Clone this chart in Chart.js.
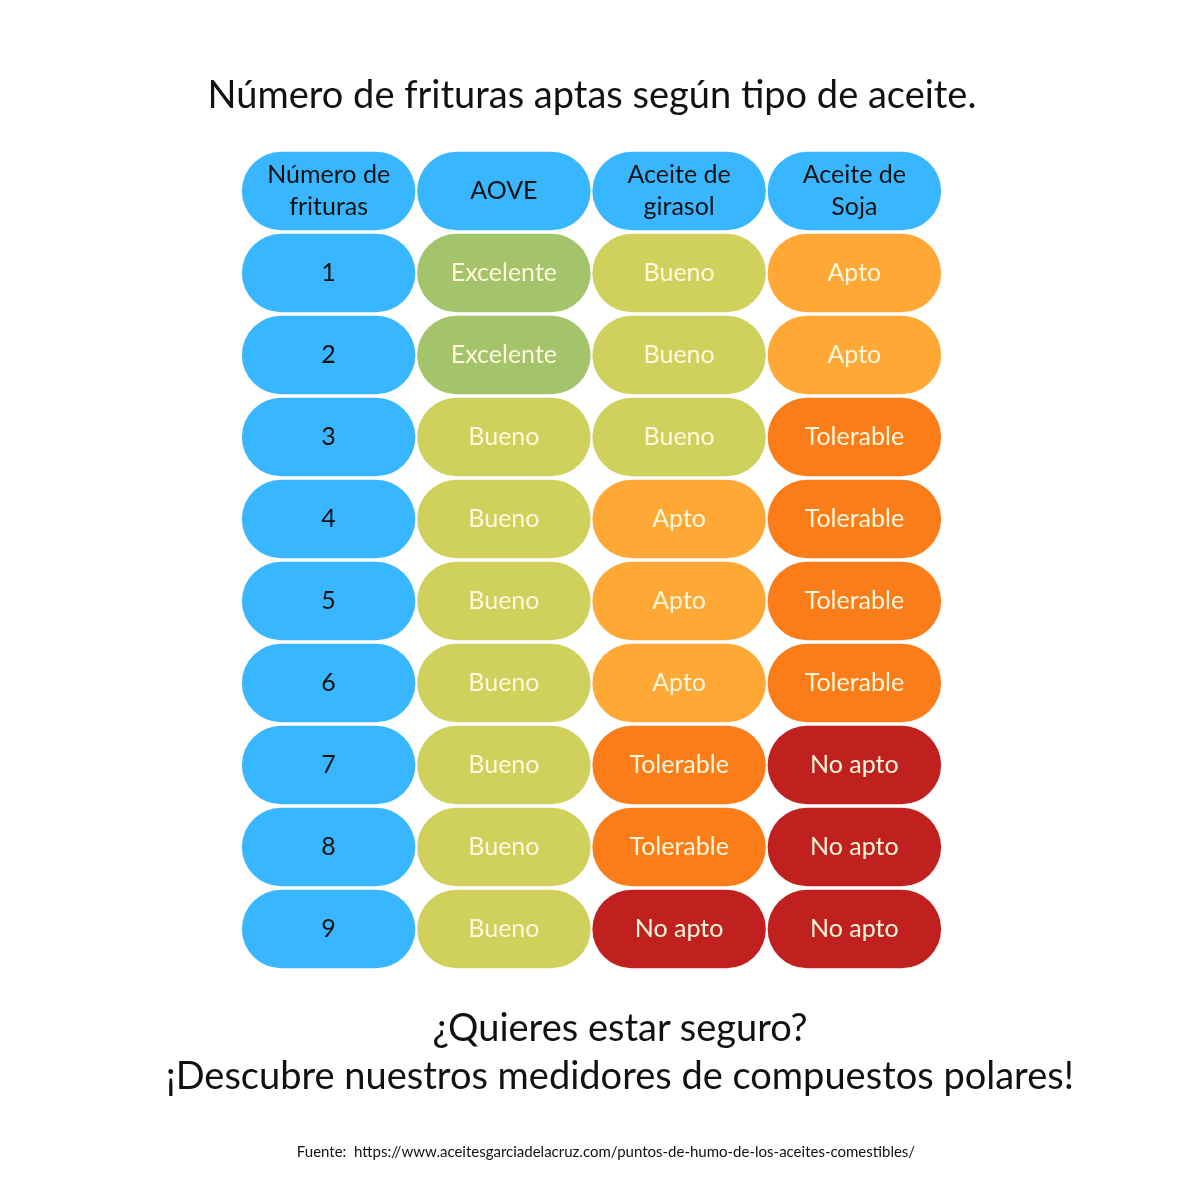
<!DOCTYPE html>
<html>
<head>
<meta charset="utf-8">
<script src="https://cdn.jsdelivr.net/npm/chart.js@4"></script>
<style>
  body { margin: 0; background: #fff; font-family: "Lato", sans-serif; }
  #wrap { position: relative; width: 1200px; height: 1200px; }
  canvas { position: absolute; left: 0; top: 0; }
  .txt { position: absolute; left: 0; width: 1200px; text-align: center; color: #111; }
</style>
</head>
<body>
<div id="wrap">
  <canvas id="grid" width="1200" height="1200"></canvas>
  <div class="txt" style="top:70px;left:-8px;font-size:38px;">Número de frituras aptas según tipo de aceite.</div>
  <div class="txt" style="top:1002px;left:20px;font-size:38px;line-height:48px;">¿Quieres estar seguro?<br>¡Descubre nuestros medidores de compuestos polares!</div>
  <div class="txt" style="top:1142px;left:6px;font-size:15px;">Fuente:&nbsp; https://www.aceitesgarciadelacruz.com/puntos-de-humo-de-los-aceites-comestibles/</div>
</div>
<script>
// Table contents
const headers = ['Número de\nfrituras', 'AOVE', 'Aceite de\ngirasol', 'Aceite de\nSoja'];
const frituras = ['1', '2', '3', '4', '5', '6', '7', '8', '9'];
const aove = ['Excelente', 'Excelente', 'Bueno', 'Bueno', 'Bueno', 'Bueno', 'Bueno', 'Bueno', 'Bueno'];
const girasol = ['Bueno', 'Bueno', 'Bueno', 'Apto', 'Apto', 'Apto', 'Tolerable', 'Tolerable', 'No apto'];
const soja = ['Apto', 'Apto', 'Tolerable', 'Tolerable', 'Tolerable', 'Tolerable', 'No apto', 'No apto', 'No apto'];

const BLUE = '#38b6ff';
const ratingColors = {
    'Excelente': '#a3c46a',
    'Bueno': '#d0d05c',
    'Apto': '#ffa836',
    'Tolerable': '#fa7d19',
    'No apto': '#c0201e'
};

const rowLabels = ['header', ...frituras];
const columns = [
    { cells: [headers[0], ...frituras], colors: () => BLUE, text: '#111' },
    { cells: [headers[1], ...aove], colors: v => ratingColors[v] || BLUE, text: '#fff8dc' },
    { cells: [headers[2], ...girasol], colors: v => ratingColors[v] || BLUE, text: '#fff8dc' },
    { cells: [headers[3], ...soja], colors: v => ratingColors[v] || BLUE, text: '#fff8dc' }
];

const datasets = columns.map((col, c) => ({
    data: col.cells.map(() => [c + 0.005, c + 0.995]),
    backgroundColor: col.cells.map((v, r) => r === 0 ? BLUE : col.colors(v)),
    borderRadius: 40,
    borderSkipped: false,
    categoryPercentage: 1,
    barPercentage: 0.96,
    grouped: false
}));

// Writes each cell's text at the centre of its bar
const cellText = {
    id: 'cellText',
    afterDatasetsDraw(chart) {
        const ctx = chart.ctx;
        ctx.save();
        ctx.textAlign = 'center';
        ctx.textBaseline = 'middle';
        ctx.font = '25px Lato, sans-serif';
        chart.data.datasets.forEach((ds, c) => {
            chart.getDatasetMeta(c).data.forEach((bar, r) => {
                const label = columns[c].cells[r];
                const lines = label.split('\n');
                ctx.fillStyle = (r === 0 || c === 0) ? '#111' : columns[c].text;
                const cx = (bar.x + bar.base) / 2;
                lines.forEach((ln, i) => {
                    ctx.fillText(ln, cx, bar.y + (i - (lines.length - 1) / 2) * 32);
                });
            });
        });
        ctx.restore();
    }
};

new Chart(document.getElementById('grid'), {
    type: 'bar',
    data: { labels: rowLabels, datasets },
    options: {
        indexAxis: 'y',
        responsive: false,
        animation: false,
        layout: { padding: { left: 241, right: 258, top: 150, bottom: 230 } },
        scales: {
            x: { type: 'linear', min: 0, max: 4, display: false },
            y: { display: false }
        },
        plugins: { legend: { display: false }, tooltip: { enabled: false } }
    },
    plugins: [cellText]
});
</script>
</body>
</html>
